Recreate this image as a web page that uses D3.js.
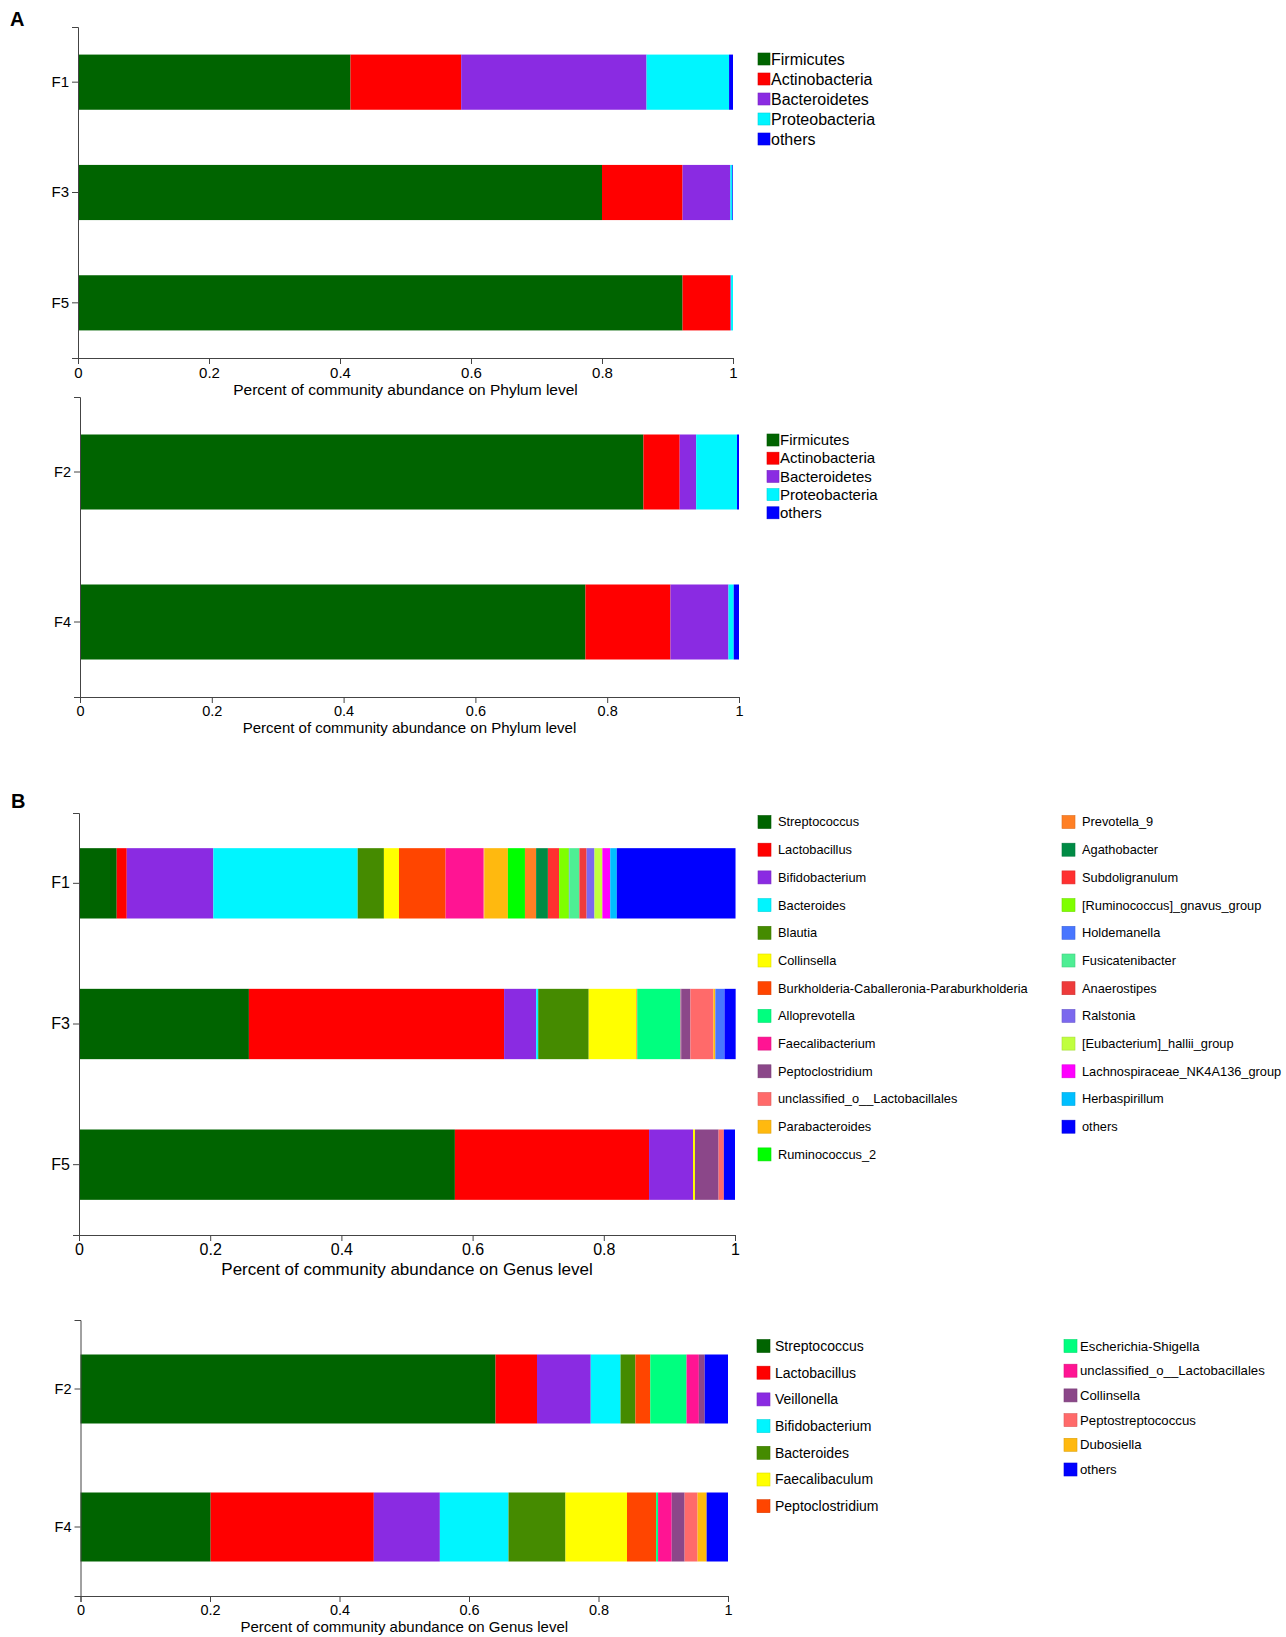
<!DOCTYPE html>
<html>
<head>
<meta charset="utf-8">
<script src="https://cdn.jsdelivr.net/npm/d3@7"></script>
<style>
  body { margin: 0; background: #fff; }
  svg { font-family: "Liberation Sans", Arial, sans-serif; }
  .axis path, .axis line { stroke: #444; }
  .axis text { fill: #000; }
</style>
</head>
<body>
<div id="fig"></div>
<script>
// ---- data ----
var phylumTaxa = ["Firmicutes", "Actinobacteria", "Bacteroidetes", "Proteobacteria", "others"];
var phylumColors = ["#006400", "#FF0000", "#8A2BE2", "#00F5FF", "#0000FF"];

var phylumSamplesA = ["F1", "F3", "F5"];
var phylumF1 = [0.416, 0.169, 0.283, 0.126, 0.006];
var phylumF3 = [0.800, 0.123, 0.073, 0.003, 0.001];
var phylumF5 = [0.923, 0.073, 0.001, 0.003, 0.000];

var phylumSamplesB = ["F2", "F4"];
var phylumF2 = [0.855, 0.055, 0.025, 0.062, 0.003];
var phylumF4 = [0.767, 0.129, 0.088, 0.008, 0.008];

var genusTaxaA = ["Streptococcus", "Lactobacillus", "Bifidobacterium", "Bacteroides", "Blautia",
  "Collinsella", "Burkholderia-Caballeronia-Paraburkholderia", "Alloprevotella", "Faecalibacterium",
  "Peptoclostridium", "unclassified_o__Lactobacillales", "Parabacteroides", "Ruminococcus_2",
  "Prevotella_9", "Agathobacter", "Subdoligranulum", "[Ruminococcus]_gnavus_group", "Holdemanella",
  "Fusicatenibacter", "Anaerostipes", "Ralstonia", "[Eubacterium]_hallii_group",
  "Lachnospiraceae_NK4A136_group", "Herbaspirillum", "others"];
var genusSamplesA = ["F1", "F3", "F5"];
var genusF1 = [0.0575, 0.0153, 0.132, 0.220, 0.040, 0.023, 0.071, 0.000, 0.058, 0.000, 0.001, 0.036,
  0.026, 0.017, 0.018, 0.017, 0.015, 0.001, 0.015, 0.011, 0.012, 0.012, 0.012, 0.010, 0.181];
var genusF3 = [0.259, 0.389, 0.049, 0.003, 0.077, 0.073, 0.001, 0.066, 0.001, 0.014, 0.035, 0.003,
  0, 0, 0, 0, 0, 0.014, 0, 0, 0, 0, 0, 0, 0.017];
var genusF5 = [0.573, 0.296, 0.067, 0, 0, 0.003, 0, 0, 0, 0.036, 0.008, 0,
  0, 0, 0, 0, 0, 0, 0, 0, 0, 0, 0, 0, 0.017];

var genusTaxaB = ["Streptococcus", "Lactobacillus", "Veillonella", "Bifidobacterium", "Bacteroides",
  "Faecalibaculum", "Peptoclostridium", "Escherichia-Shigella", "unclassified_o__Lactobacillales",
  "Collinsella", "Peptostreptococcus", "Dubosiella", "others"];
var genusSamplesB = ["F2", "F4"];
var genusF2 = [0.641, 0.064, 0.083, 0.046, 0.023, 0.000, 0.023, 0.056, 0.019, 0.009, 0.000, 0.000, 0.036];
var genusF4 = [0.201, 0.252, 0.102, 0.106, 0.088, 0.095, 0.045, 0.003, 0.021, 0.020, 0.020, 0.014, 0.033];

var xTicks = [0, 0.2, 0.4, 0.6, 0.8, 1];

// majorbio style palette, used by position
var genusPalette = ["#006400", "#FF0000", "#8A2BE2", "#00F5FF", "#458B00", "#FFFF00", "#FF4500",
  "#00FF7F", "#FF1493", "#8B4789", "#FF6A6A", "#FFB90F", "#00FF00", "#FF7F24", "#008B45",
  "#FF3030", "#7FFF00", "#4876FF", "#4EEE94", "#EE3B3B", "#7B68EE", "#C0FF3E", "#FF00FF",
  "#00BFFF"];

var svg = d3.select('#fig').append('svg')
  .attr('width', 1286)
  .attr('height', 1637);

function drawChart(c) {
  var g = svg.append('g');
  var keys = d3.range(c.taxa.length);
  var rows = c.samples.map(function(s, i) {
    var r = {sample: s};
    keys.forEach(function(k) { r[k] = c.values[i][k]; });
    return r;
  });
  var s_data = d3.stack().keys(keys)(rows);

  var x = d3.scaleLinear().domain([0, 1]).range([c.l, c.r]);
  var y = d3.scaleBand().domain(c.samples).range([c.t, c.b])
    .paddingInner(0.5).paddingOuter(0.25);

  g.append('g')
    .selectAll('g')
    .data(s_data)
    .enter()
    .append('g')
      .attr('fill', function(d) { return c.colors[d.key]; })
    .selectAll('rect')
    .data(function(d) { return d; })
    .enter()
    .append('rect')
      .attr('x', function(d) { return x(d[0]); })
      .attr('y', function(d) { return y(d.data.sample); })
      .attr('width', function(d) { return Math.max(0, x(d[1]) - x(d[0])); })
      .attr('height', y.bandwidth());

  g.append('g')
    .attr('class', 'axis x')
    .attr('transform', 'translate(0,' + c.b + ')')
    .call(d3.axisBottom(x).tickValues(xTicks).tickFormat(d3.format("~g")))
    .call(function(a) { a.selectAll('text').style('font-size', c.tickFont + 'px'); });

  g.append('g')
    .attr('class', 'axis y')
    .attr('transform', 'translate(' + c.l + ',0)')
    .call(d3.axisLeft(y).tickSizeOuter(6))
    .call(function(a) { a.selectAll('text').style('font-size', c.tickFont + 'px'); });

  g.append('text')
    .attr('x', (c.l + c.r) / 2)
    .attr('y', c.titleY)
    .attr('text-anchor', 'middle')
    .style('font-size', c.titleFont + 'px')
    .text(c.title);

  // legend, possibly in two columns
  c.legendCols.forEach(function(col) {
    var items = d3.range(col.from, col.to);
    var lg = g.append('g');
    var it = lg.selectAll('g').data(items).enter().append('g')
      .attr('transform', function(d, i) { return 'translate(0,' + (col.y + i * col.step) + ')'; });
    it.append('rect')
      .attr('x', col.sx)
      .attr('y', -c.sq / 2)
      .attr('width', c.sq)
      .attr('height', c.sq)
      .attr('fill', function(d) { return c.colors[d]; })
      .attr('stroke', function(d) { return d3.color(c.colors[d]).darker(0.4); })
      .attr('stroke-width', 0.6);
    it.append('text')
      .attr('x', col.tx)
      .attr('dy', '0.35em')
      .style('font-size', (col.font || c.legendFont) + 'px')
      .text(function(d) { return c.taxa[d]; });
  });
}

var genusColorsA = genusPalette.concat(["#0000FF"]);
// F2/F4 genus chart takes the palette by position as well
var genusColorsB = genusPalette.slice(0, 12).concat(["#0000FF"]);

drawChart({
  taxa: phylumTaxa, colors: phylumColors, samples: phylumSamplesA,
  values: [phylumF1, phylumF3, phylumF5],
  l: 78, r: 733, t: 27, b: 358,
  tickFont: 15, titleFont: 15.5, titleY: 394.5,
  title: 'Percent of community abundance on Phylum level',
  sq: 12, legendFont: 16,
  legendCols: [{from: 0, to: 5, sx: 758, tx: 771, y: 59, step: 20}]
});

drawChart({
  taxa: phylumTaxa, colors: phylumColors, samples: phylumSamplesB,
  values: [phylumF2, phylumF4],
  l: 80, r: 739, t: 397, b: 697,
  tickFont: 14.5, titleFont: 15, titleY: 732.5,
  title: 'Percent of community abundance on Phylum level',
  sq: 12, legendFont: 15,
  legendCols: [{from: 0, to: 5, sx: 767, tx: 780, y: 440, step: 18.2}]
});

drawChart({
  taxa: genusTaxaA, colors: genusColorsA, samples: genusSamplesA,
  values: [genusF1, genusF3, genusF5],
  l: 79, r: 735, t: 813, b: 1235,
  tickFont: 16, titleFont: 17, titleY: 1275,
  title: 'Percent of community abundance on Genus level',
  sq: 13, legendFont: 12.8,
  legendCols: [
    {from: 0, to: 13, sx: 758, tx: 778, y: 822, step: 27.7},
    {from: 13, to: 25, sx: 1062, tx: 1082, y: 822, step: 27.7}
  ]
});

drawChart({
  taxa: genusTaxaB, colors: genusColorsB, samples: genusSamplesB,
  values: [genusF2, genusF4],
  l: 80.5, r: 728, t: 1320, b: 1596,
  tickFont: 14.5, titleFont: 15, titleY: 1632,
  title: 'Percent of community abundance on Genus level',
  sq: 13, legendFont: 14,
  legendCols: [
    {from: 0, to: 7, sx: 757, tx: 775, y: 1346, step: 26.7},
    {from: 7, to: 13, sx: 1064, tx: 1080, y: 1346, step: 24.7, font: 13.2}
  ]
});

svg.append('text').attr('x', 10).attr('y', 26)
  .style('font-size', '20px').style('font-weight', 'bold').text('A');
svg.append('text').attr('x', 11).attr('y', 808)
  .style('font-size', '20px').style('font-weight', 'bold').text('B');
</script>
</body>
</html>
